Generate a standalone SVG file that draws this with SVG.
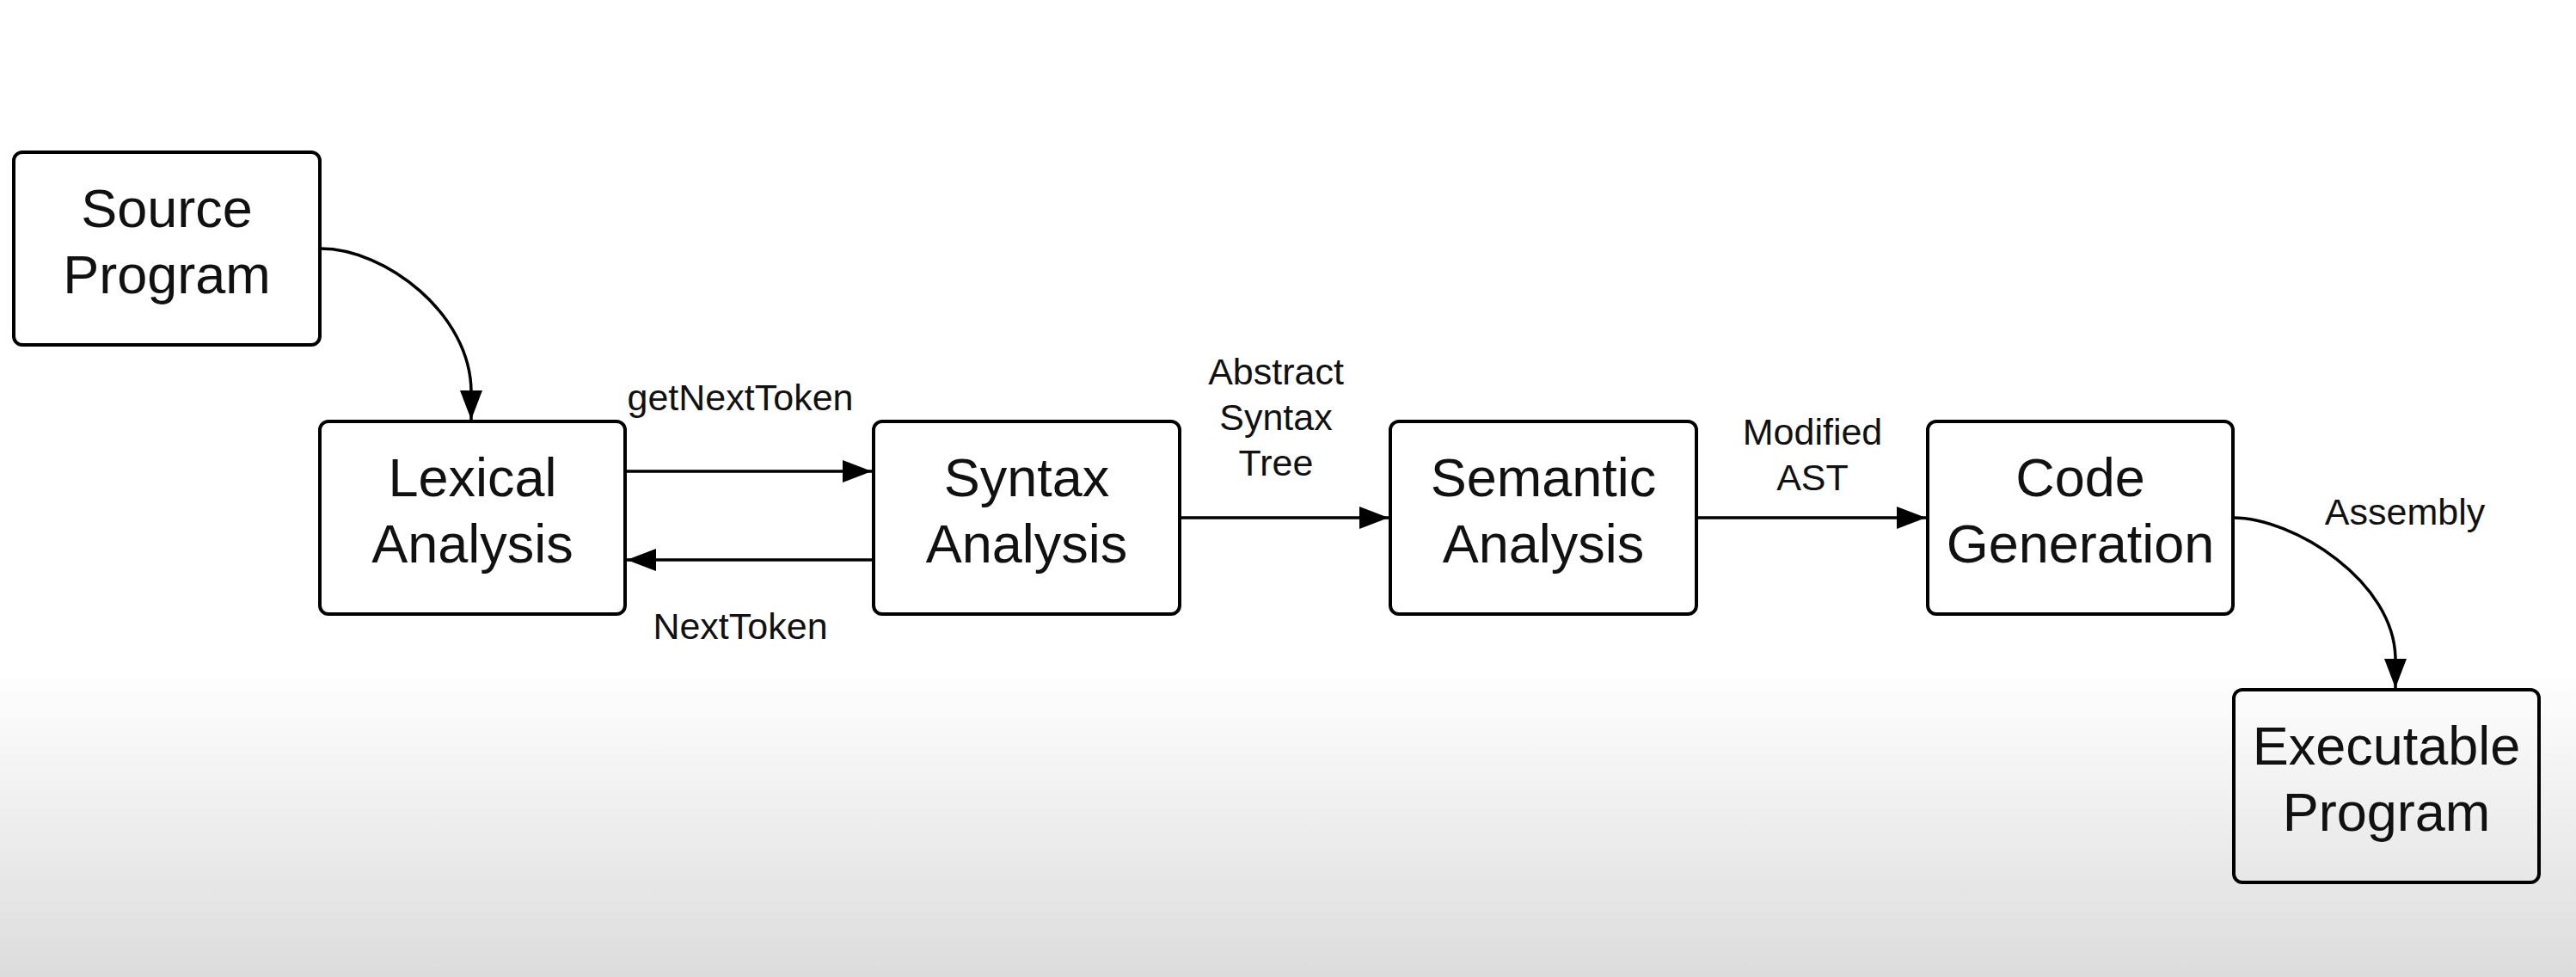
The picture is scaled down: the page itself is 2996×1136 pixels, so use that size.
<svg xmlns="http://www.w3.org/2000/svg" width="2996" height="1136" viewBox="0 0 2996 1136">
  <defs>
    <linearGradient id="bg" gradientUnits="userSpaceOnUse" x1="0" y1="780" x2="0" y2="1136">
      <stop offset="0" stop-color="#ffffff"/>
      <stop offset="1" stop-color="#dcdcdc"/>
    </linearGradient>
    <marker id="arrow" markerUnits="userSpaceOnUse" markerWidth="36" markerHeight="28" refX="34" refY="13" orient="auto">
      <path d="M0,0 L34,13 L0,26 Z" fill="#000"/>
    </marker>
  </defs>
  <style>
    .box { fill: none; stroke: #000; stroke-width: 4; }
    .node { font-family: "Liberation Sans", Arial, sans-serif; font-size: 63px; fill: #111; text-anchor: middle; }
    .lbl { font-family: "Liberation Sans", Arial, sans-serif; font-size: 43px; fill: #111; text-anchor: middle; }
    .conn { fill: none; stroke: #000; stroke-width: 3.5; marker-end: url(#arrow); }
  </style>
  <rect x="0" y="0" width="2996" height="1136" fill="url(#bg)"/>

  <g id="connectors">
    <path class="conn" d="M373,289 C448,289 548,365 548,456 L548,488"/>
    <path class="conn" d="M727,548 L1014,548"/>
    <path class="conn" d="M1016,651 L729,651"/>
    <path class="conn" d="M1372,602 L1615,602"/>
    <path class="conn" d="M1973,602 L2240,602"/>
    <path class="conn" d="M2597,602 C2667,602 2786,676 2786,767 L2786,800"/>
    <text class="lbl" x="861" y="477">getNextToken</text>
    <text class="lbl" x="861" y="743">NextToken</text>
    <text class="lbl" x="1484" y="447">Abstract</text>
    <text class="lbl" x="1484" y="500">Syntax</text>
    <text class="lbl" x="1484" y="553">Tree</text>
    <text class="lbl" x="2108" y="517">Modified</text>
    <text class="lbl" x="2108" y="570">AST</text>
    <text class="lbl" x="2797" y="610">Assembly</text>
  </g>

  <g id="source-program">
    <rect class="box" x="16" y="177" width="356" height="224" rx="10"/>
    <text class="node" x="194" y="264">Source</text>
    <text class="node" x="194" y="341">Program</text>
  </g>
  <g id="lexical-analysis">
    <rect class="box" x="372" y="490" width="355" height="224" rx="10"/>
    <text class="node" x="549.5" y="577">Lexical</text>
    <text class="node" x="549.5" y="654">Analysis</text>
  </g>
  <g id="syntax-analysis">
    <rect class="box" x="1016" y="490" width="356" height="224" rx="10"/>
    <text class="node" x="1194" y="577">Syntax</text>
    <text class="node" x="1194" y="654">Analysis</text>
  </g>
  <g id="semantic-analysis">
    <rect class="box" x="1617" y="490" width="356" height="224" rx="10"/>
    <text class="node" x="1795" y="577">Semantic</text>
    <text class="node" x="1795" y="654">Analysis</text>
  </g>
  <g id="code-generation">
    <rect class="box" x="2242" y="490" width="355" height="224" rx="10"/>
    <text class="node" x="2419.5" y="577">Code</text>
    <text class="node" x="2419.5" y="654">Generation</text>
  </g>
  <g id="executable-program">
    <rect class="box" x="2598" y="802" width="355" height="224" rx="10"/>
    <text class="node" x="2775.5" y="889">Executable</text>
    <text class="node" x="2775.5" y="966">Program</text>
  </g>
</svg>
